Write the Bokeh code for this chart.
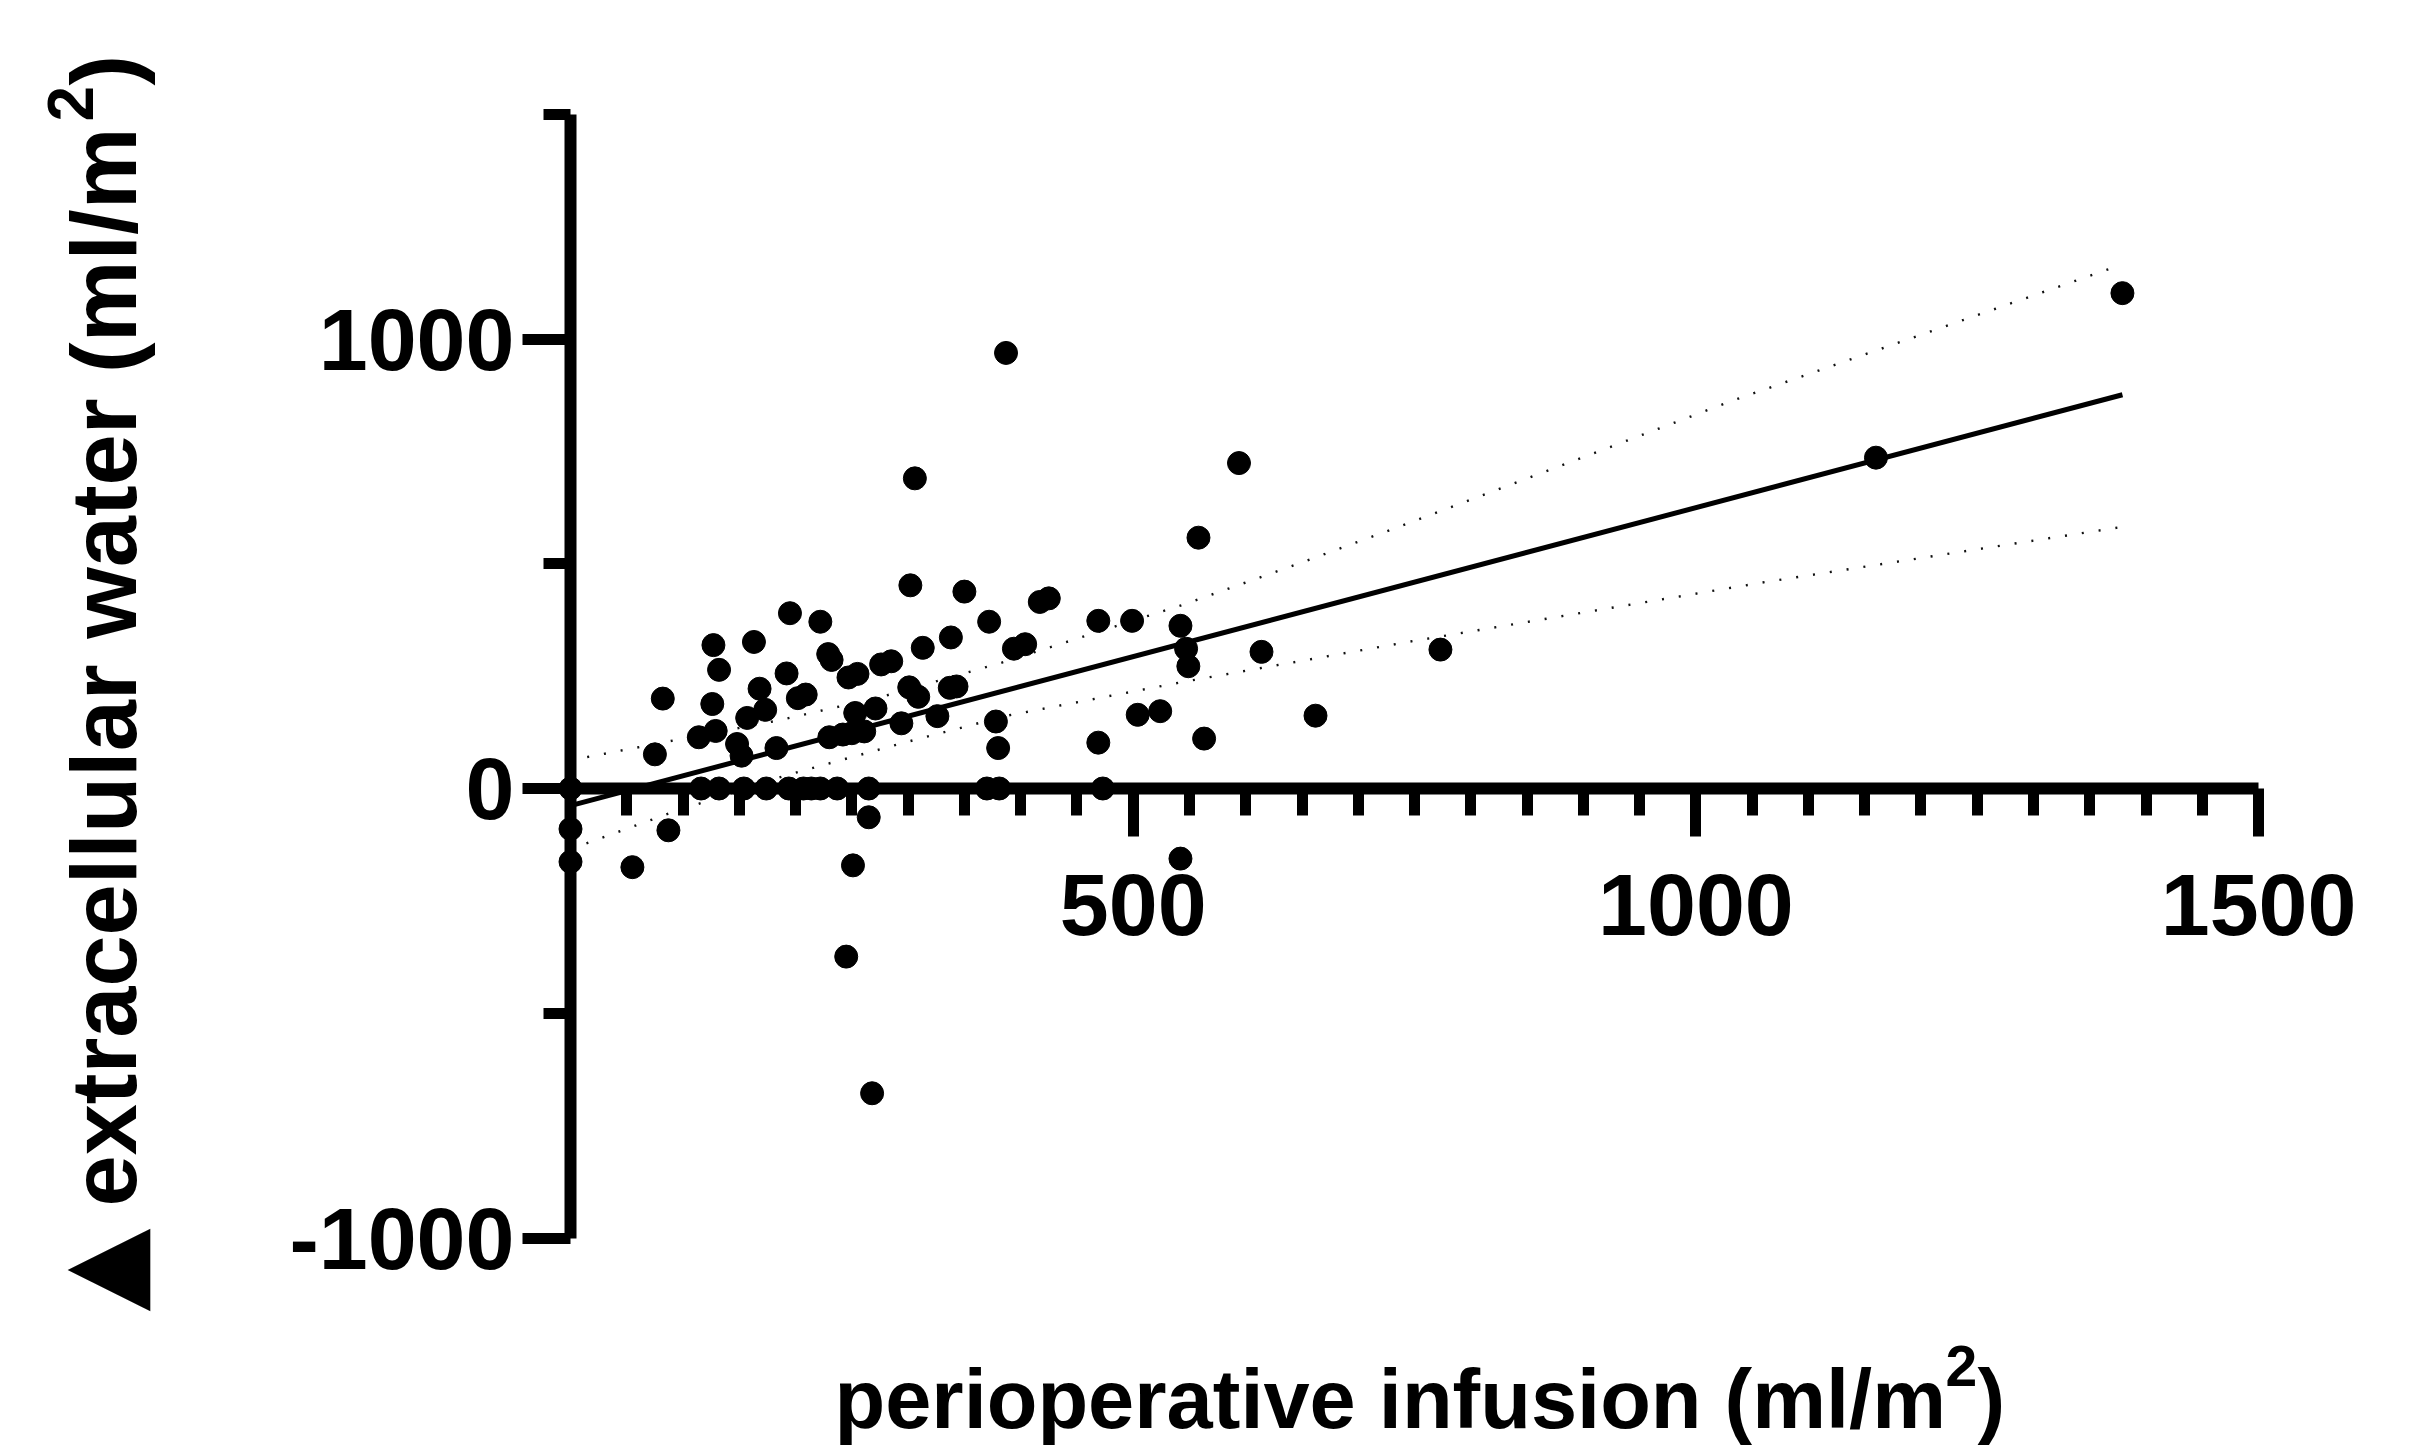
from math import pi
from bokeh.plotting import figure
from bokeh.models import Range1d, LinearAxis, FixedTicker, ColumnDataSource, Label
from bokeh.core.properties import value
from bokeh.embed import file_html
from bokeh.resources import INLINE

# ---------------- data ----------------
infusion = [
    0, 116, 132, 154, 174, 194, 207, 214, 222, 237, 265, 370, 381, 473,
    0, 0, 87, 55, 265, 251, 245, 268, 542,
    82, 75, 127, 132, 126, 129, 114, 163, 168, 157, 173, 148, 152, 195, 192,
    202, 209, 183, 222, 229, 232, 247, 255, 230, 242, 250, 261, 253, 271, 276,
    285, 294, 302, 301, 309, 313, 326, 338, 337, 343, 350, 372, 378, 380,
    306, 387, 394, 404, 417, 425, 469, 499, 542, 547, 549, 469, 504, 524, 563,
    558, 594, 614, 662, 773, 1160, 1379,
]
ecw_change = [
    0, 0, 0, 0, 0, 0, 0, 0, 0, 0, 0, 0, 0, 0,
    -90, -163, -93, -175, -64, -171, -374, -678, -156,
    200, 76, 319, 264, 188, 128, 114, 326, 222, 157, 175, 99, 73, 390, 256,
    201, 209, 90, 371, 299, 286, 247, 255, 114, 120, 123, 127, 168, 178, 276,
    283, 145, 452, 225, 204, 313, 161, 336, 224, 227, 438, 371, 149, 90,
    690, 969, 311, 321, 415, 423, 373, 373, 362, 311, 272, 102, 164, 172, 111,
    558, 724, 304, 162, 309, 736, 1102,
]

# regression line and 95% confidence band
fit_x = [0, 1379]
fit_y = [-38, 876]
upper_x = [0, 15, 92, 184, 275, 382, 547, 650, 738, 1035, 1379]
upper_y = [63, 70, 107, 151, 203, 279, 411, 503, 584, 865, 1166]
lower_x = [0, 13, 87, 191, 298, 388, 544, 744, 1061, 1379]
lower_y = [-135, -123, -56, 29, 103, 162, 237, 326, 459, 582]

x_major_ticks = [500, 1000, 1500]
x_minor_ticks = [50, 100, 150, 200, 250, 300, 350, 400, 450,
                 550, 600, 650, 700, 750, 800, 850, 900, 950,
                 1050, 1100, 1150, 1200, 1250, 1300, 1350, 1400, 1450]
x_tick_labels = {500: "500", 1000: "1000", 1500: "1500"}
y_major_ticks = [-1000, 0, 1000]
y_minor_ticks = [-500, 500, 1500]
y_tick_labels = {-1000: "-1000", 0: "0", 1000: "1000"}

x_title = "perioperative infusion (ml/m"
y_title = "extracellular water (ml/m"
delta_mark = "\u25B2"
sup_text = "2"
close_text = ")"

# ---------------- layout ----------------
W, H = 2414, 1449
X_PX = 1.1254          # px per unit (x)
Y_PX = 0.4495          # px per unit (y)
X0_PX = 570            # canvas x of x=0
Y0_PX = 788            # canvas y of y=0
x_start = -X0_PX / X_PX
x_end = x_start + W / X_PX
y_end = Y0_PX / Y_PX
y_start = y_end - H / Y_PX


def dx(cx):
    return x_start + cx / X_PX


def dy(cy):
    return y_end - cy / Y_PX


FONT = "Liberation Sans"
MID = 0.34   # distance baseline -> middle of text box, in em

p = figure(width=W, height=H,
           x_range=Range1d(x_start, x_end), y_range=Range1d(y_start, y_end),
           output_backend="svg", toolbar_location=None,
           x_axis_location=None, y_axis_location=None,
           min_border=0, outline_line_color=None,
           background_fill_color="white", border_fill_color="white")
p.grid.grid_line_color = None

# confidence band and fit line
p.line(upper_x, upper_y, line_color="#111111", line_width=2.4, line_dash="2 15")
p.line(lower_x, lower_y, line_color="#111111", line_width=2.4, line_dash="2 15")
p.line(fit_x, fit_y, line_color="black", line_width=5)

src = ColumnDataSource(dict(x=infusion, y=ecw_change))
p.scatter("x", "y", source=src, size=23, fill_color="black",
          line_color="black", line_width=1)

# axes crossing at the origin
xaxis = LinearAxis(fixed_location=0, bounds=(0, 1500),
                   ticker=FixedTicker(ticks=x_major_ticks, minor_ticks=x_minor_ticks))
yaxis = LinearAxis(fixed_location=0, bounds=(-1000, 1500),
                   ticker=FixedTicker(ticks=y_major_ticks, minor_ticks=y_minor_ticks))
xaxis.major_label_overrides = x_tick_labels
yaxis.major_label_overrides = y_tick_labels
for ax in (xaxis, yaxis):
    ax.axis_line_width = 12
    ax.axis_line_color = "black"
    ax.major_tick_line_width = 11
    ax.minor_tick_line_width = 11
    ax.major_tick_line_color = "black"
    ax.minor_tick_line_color = "black"
    ax.major_tick_in = 0
    ax.minor_tick_in = 0
    ax.major_tick_out = 48
    ax.minor_tick_out = 27
    ax.major_label_text_font = FONT
    ax.major_label_text_font_style = "bold"
    ax.major_label_text_font_size = "88px"
    ax.major_label_text_color = "black"
xaxis.major_label_standoff = 37
yaxis.major_label_standoff = 8
p.add_layout(xaxis, "below")
p.add_layout(yaxis, "left")


# horizontal x-axis title as text glyphs (canvas pixels -> data units)
def flat_piece(text, px, py, size):
    p.text(x=[dx(px)], y=[dy(py - MID * size)], text=[text],
           text_font=value(FONT), text_font_style="bold",
           text_font_size=value(f"{size}px"), text_color="black",
           text_align="left", text_baseline="middle")


flat_piece(x_title, 834, 1427, 83)
flat_piece(sup_text, 1945, 1385, 57)
flat_piece(close_text, 1977, 1427, 83)


# vertical y-axis title as rotated labels
def up_piece(text, px, py, size, font=FONT):
    p.add_layout(Label(x=dx(px - MID * size), y=dy(py), text=text,
                       angle=pi / 2, text_font=font, text_font_style="bold",
                       text_font_size=f"{size}px", text_color="black",
                       text_align="left", text_baseline="middle"))


up_piece(y_title, 135, 1206, 92)
up_piece(sup_text, 92, 121, 64)
up_piece(close_text, 135, 85, 92)
up_piece(delta_mark, 136, 1311, 108, font="DejaVu Sans")

open("out.html", "w").write(file_html(p, INLINE))
